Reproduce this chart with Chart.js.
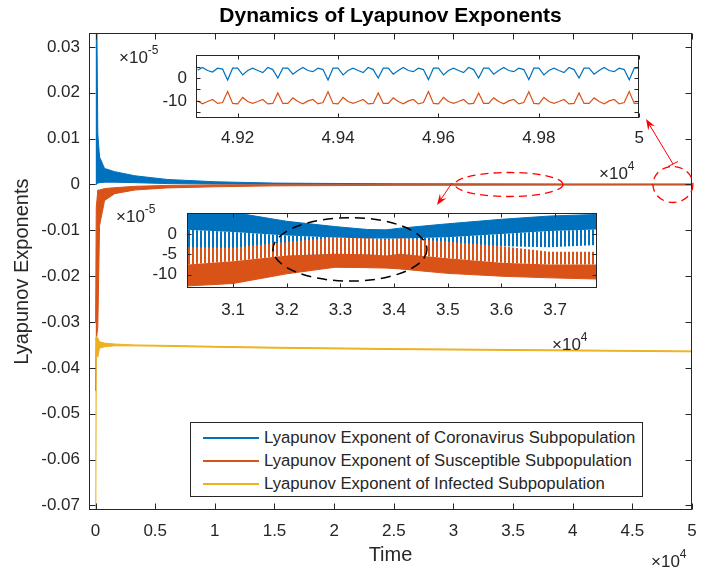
<!DOCTYPE html>
<html>
<head>
<meta charset="utf-8">
<script src="https://cdn.jsdelivr.net/npm/chart.js@4.4.1/dist/chart.umd.min.js"></script>
<style>
  html, body { margin: 0; padding: 0; background: #fff; }
  #wrap { position: relative; width: 709px; height: 571px; font-family: 'Liberation Sans', Arial, sans-serif; color: #262626; }
  #wrap canvas { position: absolute; }
  .exp { position: absolute; font-size: 17px; line-height: 17px; white-space: nowrap; }
  .exp sup { font-size: 12px; line-height: 0; vertical-align: 9px; }
  #legend { position: absolute; left: 190px; top: 422px; width: 453px; height: 75px; box-sizing: border-box;
            border: 1px solid #262626; background: #fff; font-size: 16.7px; }
  #legend .row { position: absolute; left: 0; height: 20px; line-height: 20px; width: 100%; }
  #legend .sw { position: absolute; left: 12px; top: 9px; width: 56px; height: 2px; }
  #legend .tx { position: absolute; left: 73px; top: 0; white-space: nowrap; }
</style>
</head>
<body>
<div id="wrap">
  <canvas id="main" width="709" height="571" style="left:0;top:0"></canvas>
  <canvas id="zoomEnd" width="514" height="114" style="left:140px;top:36px"></canvas>
  <canvas id="zoomMid" width="467" height="127" style="left:140px;top:193px"></canvas>
  <div class="exp" style="left:119px;top:49px">&times;10<sup>-5</sup></div>
  <div class="exp" style="left:599px;top:165px">&times;10<sup>4</sup></div>
  <div class="exp" style="left:116px;top:208px">&times;10<sup>-5</sup></div>
  <div class="exp" style="left:552px;top:336px">&times;10<sup>4</sup></div>
  <div class="exp" style="left:651px;top:553px">&times;10<sup>4</sup></div>
  <div id="legend"></div>
</div>
<script>
// ---- main plot: envelopes of the three exponents (value range at each time)
const mainTimes = [0, 60, 190, 335, 755, 1600, 3300, 6000, 10000, 15000, 25000, 40000, 50000];
const blueHi   = [0.15, 0.05, 0.011, 0.006, 0.0035, 0.0028, 0.0019, 0.0011, 0.0006, 0.0003, 0.00015, 0.0001, 0.0001];
const blueLo   = [0.0, 0.0, 0.0003, 0.0004, 0.0005, 0.0005, 0.0004, 0.0002, 0.0001, 0.00005, 0.00003, 0.00002, 0.00002];
const orangeHi = [-0.03, -0.005, -0.0012, -0.0012, -0.0009, -0.0007, -0.0004, -0.0002, -0.0001, -0.00008, -0.00006, -0.00005, -0.00005];
const orangeLo = [-0.045, -0.034, -0.031, -0.009, -0.0035, -0.002, -0.0012, -0.00075, -0.0005, -0.0003, -0.00018, -0.00012, -0.0001];
const yellowHi = [-0.034, -0.0332, -0.0335, -0.0343, -0.0346, -0.0348, -0.035, -0.0351, -0.0353, -0.0355, -0.0358, -0.0361, -0.0363];
const yellowLo = [-0.09, -0.0376, -0.0376, -0.0357, -0.0354, -0.0352, -0.0352, -0.0353, -0.0355, -0.0357, -0.036, -0.0363, -0.0365];

const mainXTicks  = [0, 5000, 10000, 15000, 20000, 25000, 30000, 35000, 40000, 45000, 50000];
const mainXLabels = ['0', '0.5', '1', '1.5', '2', '2.5', '3', '3.5', '4', '4.5', '5'];
const mainYTicks  = [-0.07, -0.06, -0.05, -0.04, -0.03, -0.02, -0.01, 0, 0.01, 0.02, 0.03];
const mainYLabels = ['-0.07', '-0.06', '-0.05', '-0.04', '-0.03', '-0.02', '-0.01', '0', '0.01', '0.02', '0.03'];

// ---- top inset: last stretch of the run, 10 time units per sample (x1e-5)
const endStart = 49120;
const endStep = 10;
const endBlue = [
  3.4, 4.6, 3.3, 2.6, 4.3, 3.9,
  -0.9, 4.3, 4.3, 1.4, 3.3, 4.3, 3.3, 2.4, 4.6, 3.7, 0.0, 4.3, 4.3, 1.7, 3.3, 4.6, 3.3, 2.8, 4.3, 3.7,
  -0.9, 4.3, 4.3, 1.4, 3.3, 4.3, 3.3, 2.4, 4.6, 3.7, 0.0, 4.3, 4.3, 1.7, 3.3, 4.6, 3.3, 2.8, 4.3, 3.7,
  -0.7, 4.3, 4.3, 1.4, 3.3, 4.3, 3.3, 2.4, 4.6, 3.7, 0.0, 4.3, 4.3, 1.7, 3.3, 4.6, 3.3, 2.8, 4.3, 3.7,
  -0.7, 4.3, 4.3, 1.4, 3.3, 4.3, 3.3, 2.4, 4.6, 3.7, 0.0, 4.3, 4.3, 1.7, 3.3, 4.6, 3.3, 2.8, 4.3, 3.7,
  -0.8, 4.3, 4.3
];
const endOrange = [
  -10.0, -11.3, -10.3, -9.4, -11.1, -10.7,
  -5.9, -11.1, -11.3, -8.5, -10.3, -11.1, -10.3, -9.4, -11.3, -11.1, -6.5, -11.1, -11.1, -8.7, -10.3, -11.3, -10.0, -9.4, -11.3, -10.7,
  -6.0, -11.1, -11.3, -8.5, -10.3, -11.1, -10.3, -9.4, -11.3, -11.1, -6.5, -11.1, -11.1, -8.7, -10.3, -11.3, -10.0, -9.4, -11.3, -10.7,
  -5.9, -11.1, -11.3, -8.5, -10.3, -11.1, -10.3, -9.4, -11.3, -11.1, -6.6, -11.1, -11.1, -8.7, -10.3, -11.3, -10.0, -9.4, -11.3, -10.7,
  -6.0, -11.1, -11.3, -8.5, -10.3, -11.1, -10.3, -9.4, -11.3, -11.1, -6.5, -11.1, -11.1, -8.7, -10.3, -11.3, -10.0, -9.4, -11.3, -10.7,
  -5.9, -11.1, -11.1
];
const endXTicks  = [49200, 49400, 49600, 49800, 50000];
const endXLabels = ['4.92', '4.94', '4.96', '4.98', '5'];
const endYTicks  = [-15, -10, -5, 0, 5];
const endYLabels = ['', '-10', '', '0', ''];

// ---- middle inset: oscillation envelopes around t = 3.0e4..3.8e4 (x1e-5)
const midTimes   = [30140, 31000, 32000, 32900, 33500, 33850, 34100, 35000, 36000, 36900, 37780];
const midBlueTop   = [5.5, 5.3, 3.1, 1.8, 1.1, 1.0, 1.4, 2.5, 3.6, 4.4, 4.8];
const midBlueCore  = [1.0, 0.5, -0.4, -0.9, -1.1, -1.1, -1.1, -0.8, 0.0, 0.7, 1.1];
const midBlueSpike = [-4.4, -4.4, -5.3, -6.7, -7.3, -7.5, -7.5, -3.3, -3.0, -3.3, -2.7];
const midOrSpike   = [-3.3, -3.4, -2.0, -0.9, -1.0, -1.5, -1.0, -1.9, -3.0, -4.4, -4.4];
const midOrCore    = [-7.5, -6.7, -5.3, -4.9, -5.0, -5.3, -4.9, -6.0, -7.1, -7.5, -7.5];
const midOrBottom  = [-12.8, -12.2, -9.8, -8.2, -8.3, -8.4, -8.6, -9.7, -10.4, -10.8, -11.1];
const midXTicks  = [31000, 32000, 33000, 34000, 35000, 36000, 37000];
const midXLabels = ['3.1', '3.2', '3.3', '3.4', '3.5', '3.6', '3.7'];
const midYTicks  = [-10, -5, 0];
const midYLabels = ['-10', '-5', '0'];

const seriesNames = [
  'Lyapunov Exponent of Coronavirus Subpopulation',
  'Lyapunov Exponent of Susceptible Subpopulation',
  'Lyapunov Exponent of Infected Subpopulation'
];
const seriesColors = ['#0072BD', '#D95319', '#EDB120'];

const FONT = "'Liberation Sans', Arial, sans-serif";
const INK = '#262626';
const NONE = 'rgba(0,0,0,0)';

const pts = (ts, vs) => ts.map((t, i) => ({ x: t, y: vs[i] }));

function stripes(color) {
  const c = document.createElement('canvas');
  c.width = 4;
  c.height = 4;
  const g = c.getContext('2d');
  g.fillStyle = color;
  g.fillRect(0, 0, 2, 4);
  return g.createPattern(c, 'repeat');
}

function band(values, color, opts) {
  return Object.assign({
    data: values,
    borderColor: color,
    borderWidth: 1,
    backgroundColor: color,
    pointRadius: 0,
    tension: 0,
    fill: false
  }, opts);
}

// frame, inward ticks on all four sides, white plot background
const boxTicks = {
  id: 'boxTicks',
  beforeDraw(chart, args, opts) {
    if (!opts.bg) return;
    const a = chart.chartArea;
    chart.ctx.save();
    chart.ctx.fillStyle = '#fff';
    chart.ctx.fillRect(a.left, a.top, a.width, a.height);
    chart.ctx.restore();
  },
  afterDatasetsDraw(chart, args, opts) {
    const { ctx, chartArea: a, scales: { x, y } } = chart;
    const L = opts.len || 5;
    const l = Math.round(a.left) + 0.5, r = Math.round(a.right) - 0.5;
    const t = Math.round(a.top) + 0.5, b = Math.round(a.bottom) - 0.5;
    ctx.save();
    ctx.strokeStyle = INK;
    ctx.lineWidth = 1;
    ctx.beginPath();
    x.ticks.forEach((tk) => {
      const px = Math.round(x.getPixelForValue(tk.value)) + 0.5;
      ctx.moveTo(px, b); ctx.lineTo(px, b - L);
      ctx.moveTo(px, t); ctx.lineTo(px, t + L);
    });
    y.ticks.forEach((tk) => {
      const py = Math.round(y.getPixelForValue(tk.value)) + 0.5;
      ctx.moveTo(l, py); ctx.lineTo(l + L, py);
      ctx.moveTo(r, py); ctx.lineTo(r - L, py);
    });
    ctx.stroke();
    ctx.strokeRect(l, t, r - l, b - t);
    ctx.restore();
  }
};

function ring(ctx, cx, cy, rx, ry) {
  ctx.beginPath();
  ctx.ellipse(cx, cy, rx, ry, 0, 0, Math.PI * 2);
  ctx.stroke();
}

function arrow(ctx, x0, y0, x1, y1) {
  const ang = Math.atan2(y1 - y0, x1 - x0);
  ctx.beginPath();
  ctx.moveTo(x0, y0);
  ctx.lineTo(x1 - 7 * Math.cos(ang), y1 - 7 * Math.sin(ang));
  ctx.stroke();
  ctx.beginPath();
  ctx.moveTo(x1, y1);
  ctx.lineTo(x1 - 11 * Math.cos(ang) + 4 * Math.sin(ang), y1 - 11 * Math.sin(ang) - 4 * Math.cos(ang));
  ctx.lineTo(x1 - 7 * Math.cos(ang), y1 - 7 * Math.sin(ang));
  ctx.lineTo(x1 - 11 * Math.cos(ang) - 4 * Math.sin(ang), y1 - 11 * Math.sin(ang) + 4 * Math.cos(ang));
  ctx.closePath();
  ctx.fill();
}

// red dashed ellipses and arrows pointing at the insets
const mainMarks = {
  id: 'mainMarks',
  afterDraw(chart) {
    const { ctx, scales: { x, y } } = chart;
    ctx.save();
    ctx.strokeStyle = '#ff0000';
    ctx.fillStyle = '#ff0000';
    ctx.lineWidth = 1.3;
    ctx.setLineDash([8, 5]);
    ring(ctx, x.getPixelForValue(34650), y.getPixelForValue(0), 54, 12);
    ring(ctx, x.getPixelForValue(48400), y.getPixelForValue(0), 20, 18);
    ctx.setLineDash([]);
    ctx.lineWidth = 1;
    arrow(ctx, 452, 183, 437, 205);
    arrow(ctx, 673, 164, 646, 119);
    ctx.beginPath();
    ctx.moveTo(668, 166.5);
    ctx.lineTo(678, 161.5);
    ctx.stroke();
    ctx.restore();
  }
};

const midMarks = {
  id: 'midMarks',
  afterDatasetsDraw(chart) {
    const { ctx, scales: { x, y } } = chart;
    const cx = x.getPixelForValue(33177), cy = y.getPixelForValue(-3.8);
    ctx.save();
    ctx.strokeStyle = '#000';
    ctx.lineWidth = 1.5;
    ctx.setLineDash([10, 6]);
    ring(ctx, cx, cy, x.getPixelForValue(33177 + 1435) - cx, y.getPixelForValue(-3.8 - 7.8) - cy);
    ctx.restore();
  }
};

function axis(min, max, size, tickVals, tickLabels, pad, extra) {
  return Object.assign({
    type: 'linear',
    min, max,
    grid: { display: false, drawTicks: false },
    border: { display: false },
    afterBuildTicks: (a) => { a.ticks = tickVals.map((v) => ({ value: v })); },
    afterFit: (a) => { if (a.isHorizontal()) a.height = size; else a.width = size; },
    ticks: {
      autoSkip: false,
      maxRotation: 0,
      padding: pad,
      color: INK,
      font: { family: FONT, size: 17 },
      callback: (v, i) => tickLabels[i]
    }
  }, extra || {});
}

const baseOpts = {
  responsive: false,
  animation: false,
  events: [],
  plugins: { legend: { display: false }, tooltip: { enabled: false } }
};

new Chart(document.getElementById('main'), {
  type: 'line',
  data: {
    datasets: [
      band(pts(mainTimes, blueHi), seriesColors[0], { order: 3 }),
      band(pts(mainTimes, blueLo), seriesColors[0], { order: 3, fill: 0 }),
      band(pts(mainTimes, orangeHi), seriesColors[1], { order: 2 }),
      band(pts(mainTimes, orangeLo), seriesColors[1], { order: 2, fill: 2 }),
      band(pts(mainTimes, yellowHi), seriesColors[2], { order: 1 }),
      band(pts(mainTimes, yellowLo), seriesColors[2], { order: 1, fill: 4 })
    ]
  },
  options: Object.assign({}, baseOpts, {
    layout: { padding: { left: 0, right: 17, top: 0, bottom: 0 } },
    plugins: Object.assign({}, baseOpts.plugins, {
      title: {
        display: true,
        fullSize: false,
        text: 'Dynamics of Lyapunov Exponents',
        color: '#000',
        font: { family: FONT, size: 21, weight: 'bold' },
        padding: { top: 4, bottom: 4 }
      },
      boxTicks: { len: 6 }
    }),
    scales: {
      x: axis(-550, 50000, 61, mainXTicks, mainXLabels, 11, {
        title: { display: true, text: 'Time', color: INK, font: { family: FONT, size: 20 }, padding: { top: 0, bottom: 4 } }
      }),
      y: axis(-0.071, 0.033, 89, mainYTicks, mainYLabels, 9, {
        title: { display: true, text: 'Lyapunov Exponents', color: INK, font: { family: FONT, size: 20 }, padding: { top: 10, bottom: 0 } }
      })
    }
  }),
  plugins: [boxTicks, mainMarks]
});

const endTimes = endBlue.map((_, i) => endStart + i * endStep);

new Chart(document.getElementById('zoomEnd'), {
  type: 'line',
  data: {
    datasets: [
      band(pts(endTimes, endBlue), seriesColors[0], { order: 2, borderWidth: 1.2 }),
      band(pts(endTimes, endOrange), seriesColors[1], { order: 1, borderWidth: 1.2 })
    ]
  },
  options: Object.assign({}, baseOpts, {
    layout: { padding: { left: 0, right: 10, top: 12, bottom: 0 } },
    plugins: Object.assign({}, baseOpts.plugins, { boxTicks: { len: 4, bg: true } }),
    scales: {
      x: axis(49117, 50000, 32, endXTicks, endXLabels, 10),
      y: axis(-17.5, 10, 56, endYTicks, endYLabels, 9)
    }
  }),
  plugins: [boxTicks]
});

const blueStripes = stripes(seriesColors[0]);
const orangeStripes = stripes(seriesColors[1]);

new Chart(document.getElementById('zoomMid'), {
  type: 'line',
  data: {
    datasets: [
      band(pts(midTimes, midBlueTop), seriesColors[0], { order: 2 }),
      band(pts(midTimes, midBlueCore), NONE, { order: 2, fill: 0, backgroundColor: seriesColors[0] }),
      band(pts(midTimes, midBlueSpike), NONE, { order: 2, fill: 1, backgroundColor: blueStripes }),
      band(pts(midTimes, midOrSpike), NONE, { order: 1 }),
      band(pts(midTimes, midOrCore), NONE, { order: 1, fill: 3, backgroundColor: orangeStripes }),
      band(pts(midTimes, midOrBottom), seriesColors[1], { order: 1, fill: 4 })
    ]
  },
  options: Object.assign({}, baseOpts, {
    layout: { padding: { left: 0, right: 10, top: 12, bottom: 0 } },
    plugins: Object.assign({}, baseOpts.plugins, { boxTicks: { len: 4, bg: true } }),
    scales: {
      x: axis(30140, 37780, 32, midXTicks, midXLabels, 12),
      y: axis(-13.3, 5.1, 47, midYTicks, midYLabels, 10)
    }
  }),
  plugins: [boxTicks, midMarks]
});

// legend box inside the main axes
const legend = document.getElementById('legend');
seriesNames.forEach((name, i) => {
  const row = document.createElement('div');
  row.className = 'row';
  row.style.top = (5 + i * 23) + 'px';
  const sw = document.createElement('div');
  sw.className = 'sw';
  sw.style.background = seriesColors[i];
  const tx = document.createElement('span');
  tx.className = 'tx';
  tx.textContent = name;
  row.appendChild(sw);
  row.appendChild(tx);
  legend.appendChild(row);
});
</script>
</body>
</html>
